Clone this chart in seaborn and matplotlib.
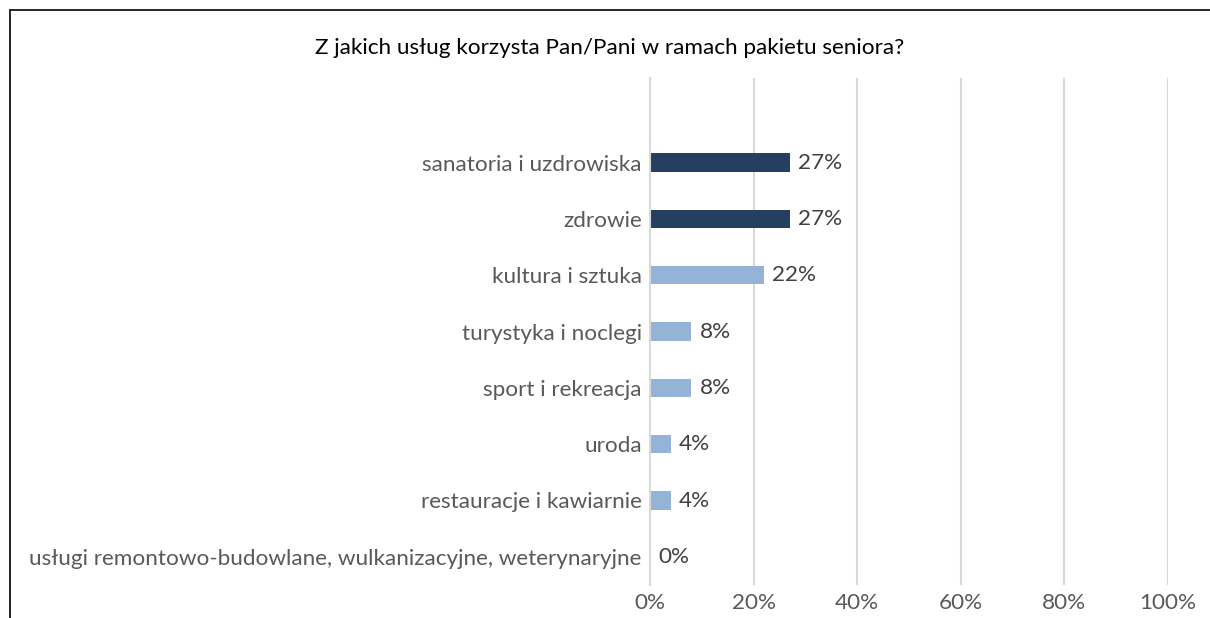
import matplotlib
matplotlib.use("Agg")
import matplotlib.pyplot as plt
from matplotlib.lines import Line2D
import seaborn as sns
import pandas as pd

categories = [
    "sanatoria i uzdrowiska",
    "zdrowie",
    "kultura i sztuka",
    "turystyka i noclegi",
    "sport i rekreacja",
    "uroda",
    "restauracje i kawiarnie",
    "usługi remontowo-budowlane, wulkanizacyjne, weterynaryjne",
]
values = [0.27, 0.27, 0.22, 0.08, 0.08, 0.04, 0.04, 0.00]
labels = ["27%", "27%", "22%", "8%", "8%", "4%", "4%", "0%"]
bar_colors = ["#243F60", "#243F60", "#95B3D7", "#95B3D7", "#95B3D7", "#95B3D7", "#95B3D7", "#95B3D7"]
xticks = [0, 0.2, 0.4, 0.6, 0.8, 1.0]
xticklabels = ["0%", "20%", "40%", "60%", "80%", "100%"]
title = "Z jakich usług korzysta Pan/Pani w ramach pakietu seniora?"

sns.set_theme(style="white")
plt.rcParams["font.family"] = ["Lato", "DejaVu Sans"]

W, H = 1210, 618
FS = 16.2
fig = plt.figure(figsize=(W / 100, H / 100), dpi=100)
ax = fig.add_axes([650 / W, 1 - 585 / H, (1168 - 650) / W, (585 - 78) / H])

df = pd.DataFrame({"cat": categories, "val": values})
sns.barplot(data=df, x="val", y="cat", hue="cat", palette=bar_colors,
            legend=False, width=0.32, ax=ax, saturation=1, linewidth=0)

ax.set_xlim(0, 1)
ax.set_ylim(7.5, -1.5)
ax.set_xticks(xticks)
ax.set_xticklabels(xticklabels)
ax.set_xlabel("")
ax.set_ylabel("")
ax.grid(axis="x", color="#D9D9D9", linewidth=1.5)
ax.grid(axis="y", visible=False)
ax.set_axisbelow(True)
for s in ["top", "right", "bottom"]:
    ax.spines[s].set_visible(False)
ax.spines["left"].set_color("#D9D9D9")
ax.spines["left"].set_linewidth(1.5)
ax.tick_params(axis="both", length=0, labelsize=FS, labelcolor="#595959")
ax.tick_params(axis="y", pad=6)
ax.tick_params(axis="x", pad=6)

for i, (v, lab) in enumerate(zip(values, labels)):
    ax.annotate(lab, xy=(v, i), xytext=(6, 0), textcoords="offset points",
                va="center", ha="left", fontsize=FS, color="#404040")

fig.text(0.5 * (10 + 1210) / W, 1 - 48 / H, title, ha="center", va="center",
         fontsize=FS, color="#000000")

fig.add_artist(Line2D([9.5 / W, 9.5 / W], [0, 1 - 9.5 / H], color="black", linewidth=1.2,
                      transform=fig.transFigure))
fig.add_artist(Line2D([9.5 / W, 1.0], [1 - 9.5 / H, 1 - 9.5 / H], color="black", linewidth=1.2,
                      transform=fig.transFigure))

fig.savefig("out.png", dpi=100)
